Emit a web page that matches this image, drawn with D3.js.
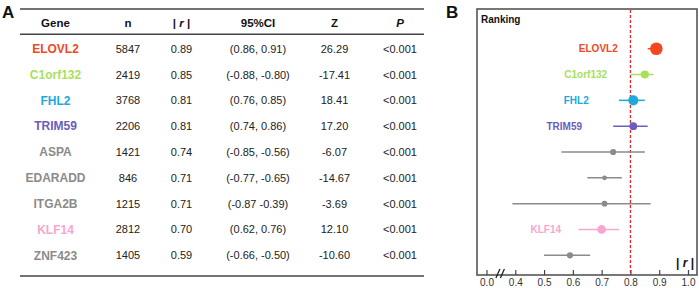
<!DOCTYPE html>
<html><head><meta charset="utf-8">
<script src="https://cdn.jsdelivr.net/npm/d3@7"></script>
<style>
html,body{margin:0;padding:0;background:#fff;}
svg{display:block;font-family:"Liberation Sans",Arial,sans-serif;}
</style></head>
<body>
<svg id="chart" width="699" height="288"></svg>
<script>
const genes = ["ELOVL2","C1orf132","FHL2","TRIM59","ASPA","EDARADD","ITGA2B","KLF14","ZNF423"];
const nValues = [5847,2419,3768,2206,1421,846,1215,2812,1405];
const rValues = [0.89,0.85,0.81,0.81,0.74,0.71,0.71,0.70,0.59];
const ciLower = [0.86,-0.88,0.76,0.74,-0.85,-0.77,-0.87,0.62,-0.66];
const ciUpper = [0.91,-0.80,0.85,0.86,-0.56,-0.65,-0.39,0.76,-0.50];
const ciLabels = ["(0.86, 0.91)","(-0.88, -0.80)","(0.76, 0.85)","(0.74, 0.86)","(-0.85, -0.56)","(-0.77, -0.65)","(-0.87 -0.39)","(0.62, 0.76)","(-0.66, -0.50)"];
const zValues = [26.29,-17.41,18.41,17.20,-6.07,-14.67,-3.69,12.10,-10.60];
const pLabels = ["<0.001","<0.001","<0.001","<0.001","<0.001","<0.001","<0.001","<0.001","<0.001"];
const geneColors = ["#f2471f","#a8e05c","#1ba9de","#6c5cbd","#8c8a8a","#8c8a8a","#8c8a8a","#f7a6cf","#8c8a8a"];
const showLabel = [true,true,true,true,false,false,false,true,false];
const labelEndAt = [0.756,0.719,0.655,0.632,null,null,null,0.559,null];
const xTickValues = [0.3,0.4,0.5,0.6,0.7,0.8,0.9,1.0];
const xTickLabels = ["0.0","0.4","0.5","0.6","0.7","0.8","0.9","1.0"];
const headers = ["Gene","n","|r|","95%CI","Z","P"];
const refLine = 0.8;

const svg = d3.select("#chart");
const ink = "#222";
const rule = "#444";

// shared row scale
const y = d3.scalePoint().domain(genes).range([48.7, 255.3]);

// ---------- Panel A: table ----------
svg.append("text").attr("x",2).attr("y",17.5).attr("font-size",17).attr("font-weight","bold").attr("fill","#111").text("A");
const colX = [55.5,128,181.5,258,334.5,400];
const tLeft = 20, tRight = 424;
[9,34.3,276].forEach(yy=>{
  svg.append("line").attr("x1",tLeft).attr("x2",tRight).attr("y1",yy).attr("y2",yy)
    .attr("stroke",rule).attr("stroke-width",1.6);
});
const hdr = svg.append("g").attr("font-size",11.5).attr("font-weight","bold").attr("fill","#111").attr("text-anchor","middle");
headers.forEach((h,i)=>{
  const t = hdr.append("text").attr("x",colX[i]).attr("y",26.5);
  if(h==="|r|"){
    t.append("tspan").text("| ");
    t.append("tspan").attr("font-style","italic").text("r");
    t.append("tspan").text(" |");
  } else if(h==="P"){
    t.attr("font-style","italic").text(h);
  } else t.text(h);
});
const rows = svg.append("g");
genes.forEach((g,i)=>{
  const yy = y(g);
  rows.append("text").attr("x",colX[0]).attr("y",yy+4.3).attr("text-anchor","middle")
    .attr("font-size",12).attr("font-weight","bold").attr("fill",geneColors[i]).text(g);
  const vals = [String(nValues[i]), rValues[i].toFixed(2), ciLabels[i], zValues[i].toFixed(2), pLabels[i]];
  vals.forEach((v,j)=>{
    rows.append("text").attr("x",colX[j+1]).attr("y",yy+4).attr("text-anchor","middle")
      .attr("font-size",11).attr("fill",ink).text(v);
  });
});

// ---------- Panel B: forest plot ----------
svg.append("text").attr("x",446).attr("y",18).attr("font-size",17).attr("font-weight","bold").attr("fill","#111").text("B");
const box = {l:477, r:697, t:9, b:275};
const x = d3.scaleLinear().domain([0.3,1.0]).range([486.5,688]);
const rScale = d3.scaleSqrt().domain([0,d3.max(nValues)]).range([0,6.3]);

svg.append("rect").attr("x",box.l).attr("y",box.t).attr("width",box.r-box.l).attr("height",box.b-box.t)
  .attr("fill","none").attr("stroke","#555").attr("stroke-width",1.6);
svg.append("text").attr("x",481).attr("y",23).attr("font-size",10).attr("font-weight","bold").attr("fill","#111").text("Ranking");

// axis
const axis = d3.axisBottom(x).tickValues(xTickValues).tickSize(-5).tickPadding(4)
  .tickFormat((d,i)=>xTickLabels[i]);
const ax = svg.append("g").attr("transform",`translate(0,${box.b})`).call(axis);
ax.select(".domain").remove();
ax.selectAll(".tick line").attr("stroke","#444").attr("stroke-width",1.2);
ax.selectAll(".tick text").attr("font-size",10).attr("fill","#333").attr("font-family","Liberation Sans, Arial, sans-serif").attr("dy","0.95em").attr("y",0);
ax.selectAll(".tick text").attr("y",1.5);
// break marks
const bx = (x(0.3)+x(0.4))/2;
[-3,1.5].forEach(o=>{
  svg.append("line").attr("x1",bx+o-2).attr("x2",bx+o+2).attr("y1",box.b+3).attr("y2",box.b-6)
    .attr("stroke","#222").attr("stroke-width",1.3);
});

// reference line
svg.append("line").attr("x1",x(refLine)).attr("x2",x(refLine)).attr("y1",box.t+1).attr("y2",box.b-1)
  .attr("stroke","#e3262a").attr("stroke-width",1.3).attr("stroke-dasharray","3,2");

// whiskers & points
const pg = svg.append("g");
genes.forEach((g,i)=>{
  const yy = y(g);
  const lo = Math.min(Math.abs(ciLower[i]),Math.abs(ciUpper[i]));
  const hi = Math.max(Math.abs(ciLower[i]),Math.abs(ciUpper[i]));
  pg.append("line").attr("x1",x(lo)).attr("x2",x(hi)).attr("y1",yy).attr("y2",yy)
    .attr("stroke",geneColors[i]).attr("stroke-width",1.5);
  pg.append("circle").attr("cx",x(rValues[i])).attr("cy",yy).attr("r",rScale(nValues[i]))
    .attr("fill",geneColors[i]);
  if(showLabel[i]){
    pg.append("text").attr("x",x(labelEndAt[i])).attr("y",yy+3.6).attr("text-anchor","end")
      .attr("font-size",10).attr("font-weight","bold").attr("fill",geneColors[i]).text(g);
  }
});

// |r| label
const rl = svg.append("text").attr("x",694).attr("y",267).attr("text-anchor","end")
  .attr("font-size",12).attr("font-weight","bold").attr("fill","#111");
rl.append("tspan").text("|");
rl.append("tspan").attr("font-style","italic").text(" r ");
rl.append("tspan").text("|");
</script>
</body></html>
